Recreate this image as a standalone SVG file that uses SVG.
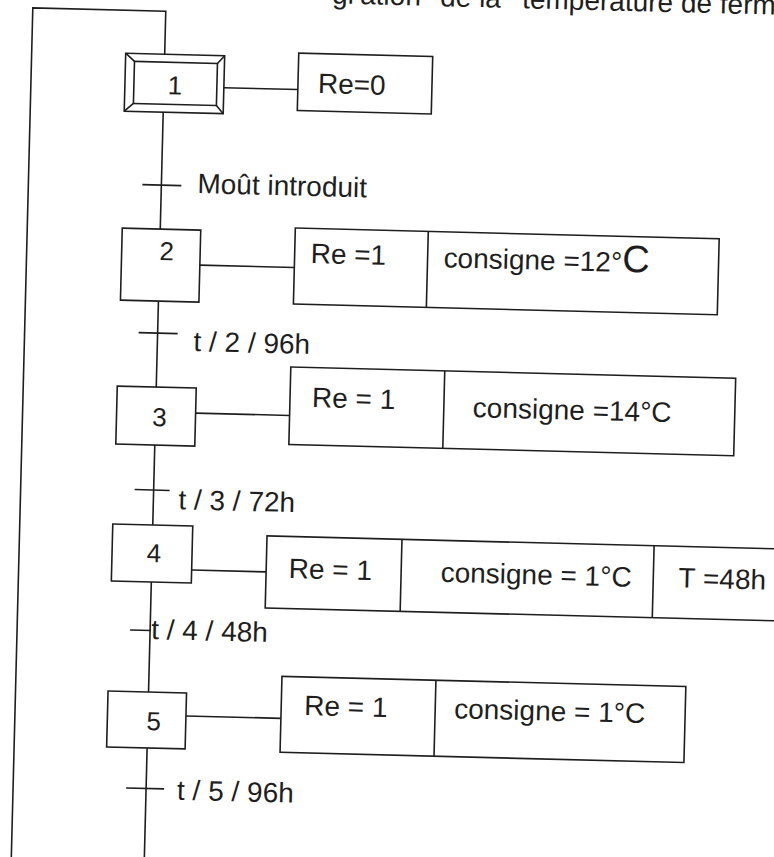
<svg xmlns="http://www.w3.org/2000/svg" width="774" height="857" viewBox="0 0 774 857">
<style>
.ln{stroke:#1e1e1e;stroke-width:1.6;fill:none}
.bx{stroke:#1e1e1e;stroke-width:1.6;fill:#fff}
.t{font-family:"Liberation Sans",Arial,sans-serif;font-size:28px;fill:#1e1e1e}
.n{font-family:"Liberation Sans",Arial,sans-serif;font-size:26px;fill:#1e1e1e;text-anchor:middle}
</style>
<rect width="774" height="857" fill="#fff"/>
<g transform="rotate(1.45)">
<text class="t" y="-5" font-size="29"><tspan x="332">gr</tspan><tspan x="360">ation</tspan><tspan x="440">de la</tspan><tspan x="522">température de fermentation</tspan></text>
<g id="connectors">
<polyline class="ln" points="33,880 33,7 166,7 166,50"/>
<line class="ln" x1="166" y1="108" x2="166" y2="225"/>
<line class="ln" x1="166" y1="297" x2="166" y2="383"/>
<line class="ln" x1="166" y1="441" x2="166" y2="521"/>
<line class="ln" x1="166" y1="578" x2="166" y2="688"/>
<line class="ln" x1="166" y1="744" x2="166" y2="880"/>
<line class="ln" x1="226" y1="82" x2="300" y2="82"/>
<line class="ln" x1="206.5" y1="260" x2="301" y2="260"/>
<line class="ln" x1="206" y1="408" x2="300" y2="408"/>
<line class="ln" x1="206" y1="565" x2="280.5" y2="565"/>
<line class="ln" x1="204" y1="711" x2="299" y2="711"/>
</g>
<g id="t1"><line class="ln" x1="147" y1="181" x2="186" y2="181"/><text class="t" x="202" y="188">Moût introduit</text></g>
<g id="t2"><line class="ln" x1="147" y1="329" x2="186" y2="329"/><text class="t" x="202" y="346">t / 2 / 96h</text></g>
<g id="t3"><line class="ln" x1="147" y1="486" x2="182" y2="486"/><text class="t" x="191" y="504.5">t / 3 / 72h</text></g>
<g id="t4"><line class="ln" x1="146" y1="626.5" x2="167" y2="626.5"/><text class="t" x="167" y="635">t / 4 / 48h</text></g>
<g id="t5"><line class="ln" x1="146" y1="784.5" x2="184" y2="784.5"/><text class="t" x="197" y="795">t / 5 / 96h</text></g>
<g id="step1">
<rect class="bx" x="127" y="50" width="99" height="58"/>
<rect class="bx" x="136" y="58" width="83" height="42"/>
<path class="ln" d="M127,50L136,58M226,50L219,58M127,108L136,100M226,108L219,100"/>
<text class="n" x="177" y="90">1</text>
</g>
<g id="action1">
<rect class="bx" x="300" y="45.5" width="134" height="57.5"/>
<text class="t" x="320" y="85">Re=0</text>
</g>
<g id="step2">
<rect class="bx" x="128" y="225" width="78.5" height="72"/>
<text class="n" x="173" y="256">2</text>
</g>
<g id="action2">
<rect class="bx" x="301" y="220.5" width="424" height="76"/>
<line class="ln" x1="434" y1="220.5" x2="434" y2="296.5"/>
<text class="t" x="317" y="255">Re =1</text>
<text class="t" x="450" y="256">consigne =12°<tspan font-size="38">C</tspan></text>
</g>
<g id="step3">
<rect class="bx" x="127" y="383" width="79" height="58"/>
<text class="n" x="170" y="422">3</text>
</g>
<g id="action3">
<rect class="bx" x="300" y="359.5" width="445" height="77.5"/>
<line class="ln" x1="454" y1="359.5" x2="454" y2="437"/>
<text class="t" x="322" y="399">Re = 1</text>
<text class="t" x="483" y="405">consigne =14°C</text>
</g>
<g id="step4">
<rect class="bx" x="126" y="521" width="80" height="57"/>
<text class="n" x="168" y="558">4</text>
</g>
<g id="action4">
<rect class="bx" x="280.5" y="529" width="540" height="72"/>
<line class="ln" x1="415.5" y1="529" x2="415.5" y2="601"/>
<line class="ln" x1="667.7" y1="529" x2="667.7" y2="601"/>
<text class="t" x="303" y="570.5">Re = 1</text>
<text class="t" x="455" y="570.5">consigne = 1°C</text>
<text class="t" x="693" y="570">T =48h</text>
</g>
<g id="step5">
<rect class="bx" x="125.5" y="688" width="78.5" height="56"/>
<text class="n" x="172" y="726">5</text>
</g>
<g id="action5">
<rect class="bx" x="299" y="669" width="404" height="76"/>
<line class="ln" x1="453" y1="669" x2="453" y2="745"/>
<text class="t" x="322" y="707">Re = 1</text>
<text class="t" x="472" y="706.5">consigne = 1°C</text>
</g>
</g>
</svg>
